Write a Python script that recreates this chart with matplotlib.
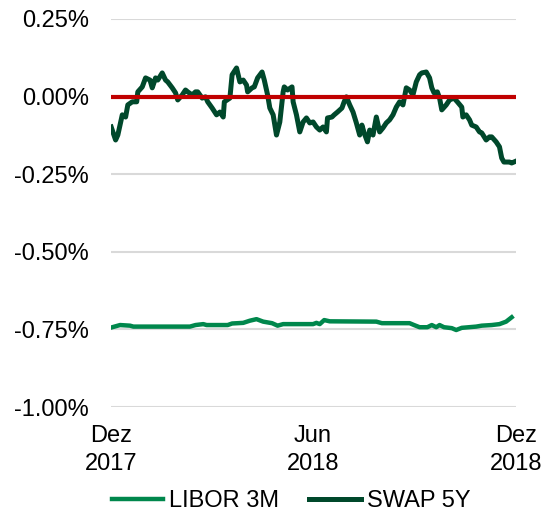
import matplotlib
matplotlib.use("Agg")
import matplotlib.pyplot as plt
import numpy as np
import pandas as pd

plt.rcParams['font.family'] = ['Liberation Sans', 'DejaVu Sans']

# days after 2017-12-01 and rate in %
start = pd.Timestamp("2017-12-01")

swap_days = [0, 4, 6, 10, 13, 15, 19, 23, 24, 28, 31, 35, 37, 40, 42, 46, 49, 51, 55, 58,
             60, 64, 67, 69, 73, 76, 78, 82, 85, 87, 91, 95, 98, 101, 102, 107, 109, 113, 116, 119,
             122, 123, 127, 129, 132, 136, 138, 141, 143, 146, 149, 152, 155, 156, 159, 163, 164, 167, 170, 173,
             176, 179, 182, 185, 188, 191, 194, 195, 199, 201, 204, 208, 210, 212, 215, 218, 221, 224, 226, 228,
             231, 233, 236, 239, 242, 245, 248, 251, 254, 257, 260, 263, 266, 269, 272, 275, 278, 280, 284, 287,
             289, 291, 294, 296, 298, 302, 305, 309, 312, 316, 317, 320, 323, 325, 329, 332, 334, 338, 341, 343,
             347, 350, 352, 354, 359, 361, 365]
swap_5y = [-0.098, -0.140, -0.124, -0.059, -0.066, -0.027, -0.017, -0.017, 0.015, 0.031,
           0.060, 0.053, 0.028, 0.060, 0.053, 0.076, 0.053, 0.047, 0.028, 0.012,
           -0.011, 0.005, 0.021, 0.015, 0.005, 0.015, 0.015, -0.005, -0.001, -0.017,
           -0.037, -0.059, -0.050, -0.066, -0.017, -0.005, 0.070, 0.092, 0.047, 0.053,
           0.037, 0.015, 0.028, 0.031, 0.060, 0.079, 0.053, 0.005, -0.037, -0.059,
           -0.124, -0.082, 0.015, 0.031, 0.021, 0.031, -0.017, -0.059, -0.114, -0.082,
           -0.069, -0.085, -0.082, -0.098, -0.108, -0.098, -0.114, -0.069, -0.066, -0.059,
           -0.050, -0.037, -0.017, -0.001, -0.027, -0.050, -0.085, -0.124, -0.092, -0.117,
           -0.146, -0.108, -0.124, -0.066, -0.114, -0.101, -0.085, -0.075, -0.059, -0.034,
           -0.017, -0.027, 0.028, 0.021, 0.005, 0.047, 0.070, 0.076, 0.079, 0.060,
           0.028, 0.012, 0.015, -0.005, -0.043, -0.027, -0.011, -0.005, -0.017, -0.034,
           -0.066, -0.059, -0.075, -0.092, -0.098, -0.114, -0.117, -0.140, -0.130, -0.130,
           -0.146, -0.162, -0.198, -0.211, -0.211, -0.214, -0.208]

libor_days = [1, 8, 17, 20, 71, 76, 83, 86, 105, 109, 119, 125, 131, 137, 145, 150, 155, 182, 185, 188,
              192, 197, 239, 244, 269, 273, 278, 285, 289, 293, 296, 300, 307, 311, 316, 329, 334, 343, 350, 356,
              361]
libor_3m = [-0.743, -0.736, -0.738, -0.741, -0.741, -0.736, -0.733, -0.736, -0.736, -0.731,
            -0.729, -0.722, -0.717, -0.725, -0.730, -0.738, -0.733, -0.733, -0.729, -0.733,
            -0.720, -0.724, -0.725, -0.730, -0.730, -0.736, -0.743, -0.743, -0.736, -0.743,
            -0.736, -0.743, -0.746, -0.752, -0.745, -0.741, -0.738, -0.736, -0.733, -0.725,
            -0.711]

tick_dates = ["2017-12-01", "2018-06-01", "2018-12-01"]
tick_labels = ["Dez\n2017", "Jun\n2018", "Dez\n2018"]
y_ticks = [0.25, 0.0, -0.25, -0.50, -0.75, -1.00]

swap_x = start + pd.to_timedelta(swap_days, unit="D")
libor_x = start + pd.to_timedelta(libor_days, unit="D")

fig = plt.figure(figsize=(5.45, 5.11), dpi=100)
ax = fig.add_axes([0.204, 0.2035, 0.743, 0.7595])

ax.plot(libor_x, libor_3m, color="#00874C", lw=3.2, label="LIBOR 3M", zorder=3)
ax.plot(swap_x, swap_5y, color="#00482B", lw=3.6, label="SWAP 5Y", zorder=3)
ax.axhline(0, color="#C00000", lw=3.0, zorder=4)

ax.set_ylim(-1.0, 0.25)
ax.set_xlim(pd.Timestamp(tick_dates[0]), pd.Timestamp(tick_dates[-1]))
ax.set_yticks(y_ticks)
ax.set_yticklabels([f"{v:.2f}%" for v in y_ticks])
ax.set_xticks(pd.to_datetime(tick_dates))
ax.set_xticklabels(tick_labels, linespacing=1.35)

ax.grid(axis="y", color="#D9D9D9", lw=1.5)
ax.set_axisbelow(True)
for s in ax.spines.values():
    s.set_visible(False)
ax.tick_params(axis="both", length=0, labelsize=17)
ax.tick_params(axis="y", pad=16)
ax.tick_params(axis="x", pad=13)

fig.legend(loc="center", bbox_to_anchor=(0.534, 0.019), ncol=2, frameon=False,
           fontsize=17, handlelength=2.2, handletextpad=0.25, columnspacing=1.25)

fig.savefig("out.png", dpi=100)
